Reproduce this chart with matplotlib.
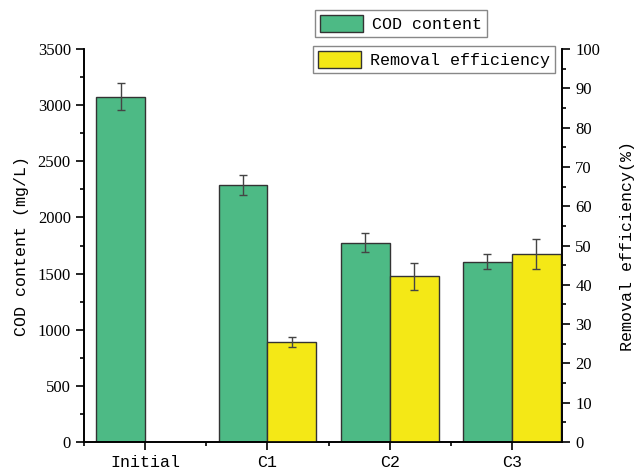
import matplotlib
matplotlib.use("Agg")
import matplotlib.pyplot as plt
import numpy as np
from matplotlib.ticker import MultipleLocator, FixedLocator
from matplotlib.patches import Patch

categories = ["Initial", "C1", "C2", "C3"]
cod = [3075, 2289, 1775, 1606]
cod_err = [120, 90, 83, 68]
removal = [0, 25.5, 42.2, 47.8]
removal_err = [0, 1.3, 3.4, 3.8]

green = "#4dba85"
yellow = "#f4e816"
edge = "#333333"

tickfont = "Liberation Serif"
labfont = "Liberation Mono"

fig = plt.figure(figsize=(6.38, 4.76), dpi=100)
ax = fig.add_axes([0.1317, 0.0714, 0.7493, 0.8256])
ax2 = ax.twinx()

x = np.arange(len(categories))
w = 0.4
ax.bar(x - w / 2, cod, w, color=green, edgecolor=edge, linewidth=1.0, zorder=2)
ax.errorbar(x - w / 2, cod, yerr=cod_err, fmt="none", ecolor="#444444",
            elinewidth=1.0, capsize=3, capthick=1.0, zorder=3)
ax2.bar(x[1:] + w / 2, removal[1:], w, color=yellow, edgecolor=edge, linewidth=1.0, zorder=2)
ax2.errorbar(x[1:] + w / 2, removal[1:], yerr=removal_err[1:], fmt="none", ecolor="#444444",
             elinewidth=1.0, capsize=3, capthick=1.0, zorder=3)

ax.set_xlim(-0.5, 3.41)
ax.set_ylim(0, 3500)
ax2.set_ylim(0, 100)

ax.set_xticks(x)
ax.set_xticklabels(categories, fontfamily=labfont, fontsize=12)
ax.xaxis.set_minor_locator(FixedLocator([-0.5, 0.5, 1.5, 2.5]))
ax.yaxis.set_major_locator(MultipleLocator(500))
ax.yaxis.set_minor_locator(MultipleLocator(250))
ax2.yaxis.set_major_locator(MultipleLocator(10))
ax2.yaxis.set_minor_locator(MultipleLocator(5))

for a in (ax, ax2):
    a.spines["top"].set_visible(False)
    for s in a.spines.values():
        s.set_linewidth(1.2)
    a.tick_params(which="major", direction="out", length=6, width=1.2)
    a.tick_params(which="minor", direction="out", length=3, width=1.2)
for lab in ax.get_yticklabels() + ax2.get_yticklabels():
    lab.set_fontfamily(tickfont)
    lab.set_fontsize(12)

ax.set_ylabel("COD content (mg/L)", fontfamily=labfont, fontsize=12, labelpad=6)
ax2.set_ylabel("Removal efficiency(%)", fontfamily=labfont, fontsize=12, labelpad=14)

leg_kw = dict(frameon=True, fancybox=False, edgecolor="#888888", framealpha=1,
              prop={"family": labfont, "size": 12}, handlelength=2.6, handleheight=1.2,
              borderpad=0.3, handletextpad=0.5, borderaxespad=0)
l1 = fig.legend(handles=[Patch(facecolor=green, edgecolor=edge, label="COD content")],
                loc="upper left", bbox_to_anchor=(315 / 638, 1 - 10 / 476), **leg_kw)
l2 = fig.legend(handles=[Patch(facecolor=yellow, edgecolor=edge, label="Removal efficiency")],
                loc="upper left", bbox_to_anchor=(313 / 638, 1 - 46 / 476), **leg_kw)

fig.savefig("out.png", dpi=100)
